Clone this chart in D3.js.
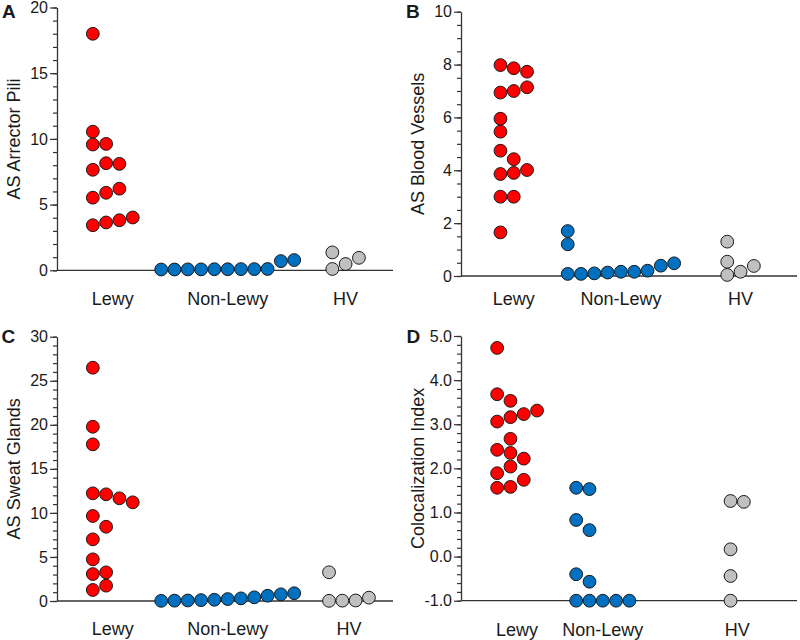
<!DOCTYPE html>
<html>
<head>
<meta charset="utf-8">
<script src="https://cdn.jsdelivr.net/npm/d3@7"></script>
<style>
  body { margin: 0; background: #fff; }
  svg text { font-family: "Liberation Sans", Arial, sans-serif; fill: #1a1a1a; }
</style>
</head>
<body>
<div id="chart"></div>
<script>
const groups = ["Lewy", "Non-Lewy", "HV"];
const groupColors = ["#ff0000", "#0070c0", "#c0c0c0"];

// A: AS Arrector Pili
const piliLewy = [3.43, 3.64, 3.81, 4.02, 5.53, 5.9, 6.21, 7.65, 8.15, 8.1, 9.57, 9.62, 10.55, 18.0];
const piliNonLewy = [0.06, 0.06, 0.07, 0.07, 0.08, 0.08, 0.09, 0.09, 0.1, 0.7, 0.78];
const piliHV = [0.1, 0.48, 0.95, 1.36];

// B: AS Blood Vessels
const vesselsLewy = [1.65, 3.0, 3.0, 3.86, 3.9, 4.01, 4.74, 4.42, 5.46, 5.95, 6.94, 7.0, 7.14, 7.98, 7.86, 7.73];
const vesselsNonLewy = [0.08, 0.08, 0.1, 0.13, 0.16, 0.16, 0.2, 0.39, 0.48, 1.2, 1.7];
const vesselsHV = [0.04, 0.16, 0.38, 0.54, 1.3];

// C: AS Sweat Glands
const glandsLewy = [1.25, 1.74, 3.06, 3.25, 4.73, 7.0, 9.65, 8.43, 12.22, 12.11, 11.66, 11.2, 17.78, 19.78, 26.48];
const glandsNonLewy = [0.02, 0.04, 0.06, 0.1, 0.14, 0.22, 0.3, 0.42, 0.6, 0.76, 0.88];
const glandsHV = [0.02, 0.04, 0.06, 0.38, 3.26];

// D: Colocalization Index
const colocLewy = [1.56, 1.58, 1.74, 1.89, 2.04, 2.42, 2.35, 2.22, 3.06, 2.67, 3.16, 3.23, 3.31, 3.68, 3.53, 4.73];
const colocNonLewy = [-1, -1, -1, -1, -1, -0.4, -0.57, 0.83, 0.6, 1.56, 1.53];
const colocHV = [-1, -0.44, 0.165, 1.26, 1.24];

const panels = [
  { letter: "A", lx: 2, ly: 18, title: "AS Arrector Pili", left: 57, right: 393, top: 7.5, bottom: 270.3,
    domain: [0, 20], major: 5, minor: 1, digits: 0, catY: 305, cats: [0.166, 0.508, 0.859],
    data: [piliLewy, piliNonLewy, piliHV] },
  { letter: "B", lx: 406, ly: 18, title: "AS Blood Vessels", left: 461, right: 797, top: 11.7, bottom: 276,
    domain: [0, 10], major: 2, minor: 0.5, digits: 0, catY: 305, cats: [0.157, 0.476, 0.832],
    data: [vesselsLewy, vesselsNonLewy, vesselsHV] },
  { letter: "C", lx: 1.5, ly: 343, title: "AS Sweat Glands", left: 57, right: 393, top: 336.7, bottom: 601,
    domain: [0, 30], major: 5, minor: 1, digits: 0, catY: 635, cats: [0.166, 0.508, 0.869],
    data: [glandsLewy, glandsNonLewy, glandsHV] },
  { letter: "D", lx: 406.5, ly: 343, title: "Colocalization Index", left: 461, right: 797, top: 336, bottom: 600.7,
    domain: [-1, 5], major: 1, minor: 0.2, digits: 1, catY: 636, cats: [0.167, 0.422, 0.822],
    data: [colocLewy, colocNonLewy, colocHV] }
];

const r = 6.4, step = 13.3, gap = 12.2;

const svg = d3.select("#chart").append("svg")
  .attr("width", 800)
  .attr("height", 640);

// place points in array order into the leftmost column where they don't overlap
function swarm(values, y) {
  const cols = [];
  const pts = values.map(v => {
    const py = y(v);
    let c = 0;
    while (cols[c] && cols[c].some(q => Math.abs(q - py) < gap)) c++;
    (cols[c] = cols[c] || []).push(py);
    return { v: v, py: py, col: c };
  });
  const n = cols.length;
  pts.forEach(p => p.off = (p.col - (n - 1) / 2) * step);
  return pts;
}

panels.forEach(p => {
  const w = p.right - p.left;
  const g = svg.append("g").attr("transform", `translate(${p.left},0)`);

  const y = d3.scaleLinear().domain(p.domain).range([p.bottom, p.top]);
  const x = d3.scaleOrdinal().domain(groups).range(p.cats.map(f => f * w));

  const majors = d3.range(p.domain[0], p.domain[1] + 1e-6, p.major);
  const minors = d3.range(p.domain[0], p.domain[1] + 1e-6, p.minor);

  g.append("g")
    .call(d3.axisLeft(y).tickValues(minors).tickSize(4).tickFormat(""))
    .call(a => a.select(".domain").remove())
    .call(a => a.selectAll("line").attr("stroke", "#333").attr("stroke-width", 1.2));

  g.append("g")
    .call(d3.axisLeft(y).tickValues(majors).tickSize(7).tickSizeOuter(0).tickPadding(2)
      .tickFormat(d => d.toFixed(p.digits)))
    .call(a => a.selectAll("line").attr("stroke", "#333").attr("stroke-width", 1.2))
    .call(a => a.select(".domain").attr("stroke", "#333").attr("stroke-width", 1.3))
    .call(a => a.selectAll("text").style("font-size", "16px")
      .style("font-family", "'Liberation Sans', Arial, sans-serif").attr("fill", "#1a1a1a"));

  // baseline
  g.append("line")
    .attr("x1", 0).attr("x2", w)
    .attr("y1", y(p.domain[0])).attr("y2", y(p.domain[0]))
    .attr("stroke", "#333").attr("stroke-width", 1.3);

  // category labels
  g.selectAll(".cat")
    .data(groups)
    .enter()
    .append("text")
    .attr("class", "cat")
    .attr("x", d => x(d))
    .attr("y", p.catY)
    .attr("text-anchor", "middle")
    .style("font-size", "18px")
    .text(d => d);

  // y title
  g.append("text")
    .attr("transform", `translate(-43.5,${(p.top + p.bottom) / 2}) rotate(-90)`)
    .attr("text-anchor", "middle")
    .attr("dominant-baseline", "central")
    .style("font-size", "18px")
    .text(p.title);

  // panel letter
  svg.append("text")
    .attr("x", p.lx)
    .attr("y", p.ly)
    .style("font-size", "19px")
    .style("font-weight", "bold")
    .attr("fill", "#000")
    .text(p.letter);

  groups.forEach((grp, i) => {
    const pts = swarm(p.data[i], y);
    g.selectAll(".dot-" + i)
      .data(pts)
      .enter()
      .append("circle")
      .attr("class", "dot-" + i)
      .attr("cx", d => x(grp) + d.off)
      .attr("cy", d => d.py)
      .attr("r", r)
      .attr("fill", groupColors[i])
      .attr("stroke", "#1a1a1a")
      .attr("stroke-width", 1);
  });
});
</script>
</body>
</html>
